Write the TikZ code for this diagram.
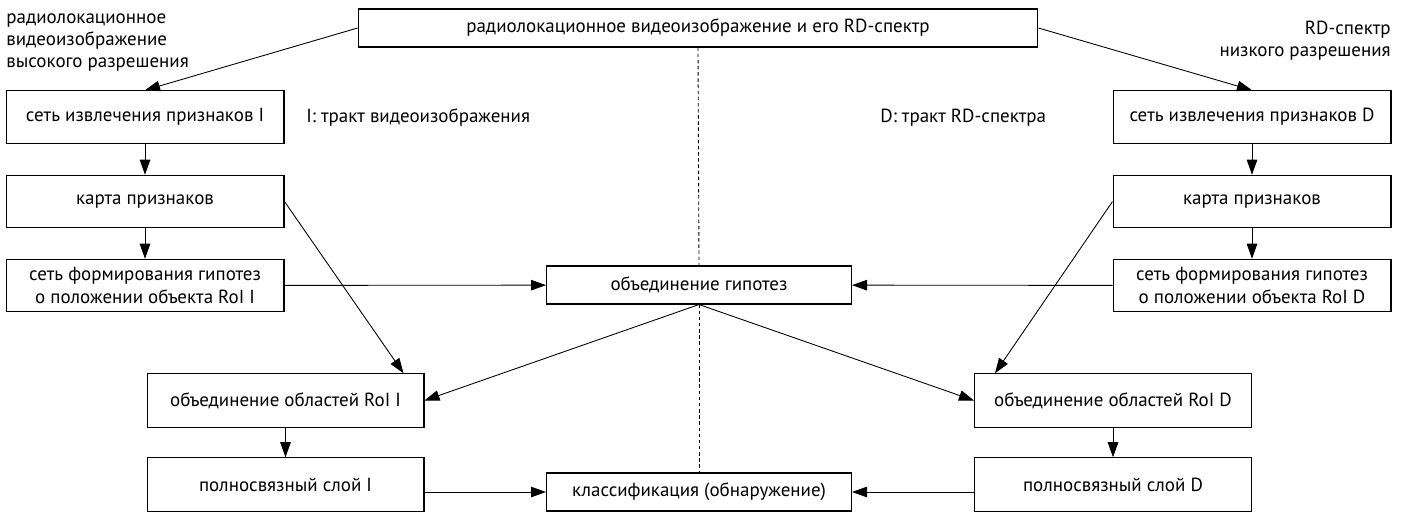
\documentclass[tikz,border=0pt]{standalone}
\usepackage{fontspec}
\setmainfont{PT Sans}
\usetikzlibrary{arrows.meta, positioning, calc}
\tikzset{
  blk/.style={draw, fill=white, line width=0.6pt, inner sep=2pt, align=center,
    font=\fontsize{10.8}{12.6}\selectfont},
  colblk/.style={blk, minimum width=5.56cm, minimum height=1.05cm},
  lowblk/.style={blk, minimum width=5.54cm, minimum height=1.07cm},
  midblk/.style={blk, minimum width=6.1cm, minimum height=0.76cm},
  lbl/.style={inner sep=0pt, font=\fontsize{10.8}{12.6}\selectfont},
  lnk/.style={line width=0.5pt, -{Triangle[length=3mm, width=2.1mm]}},
  guide/.style={line width=0.5pt, dash pattern=on 2pt off 1.5pt},
}

\begin{document}
\begin{tikzpicture}[x=0.02cm, y=-0.02cm]
  \useasboundingbox (0,0) rectangle (1406,512);

  % source
  \node[blk, minimum width=13.6cm, minimum height=0.76cm] (src) at (698,28)
    {радиолокационное видеоизображение и его RD-спектр};

  % the two paths
  \foreach \s/\x in {I/145, D/1252} {
    \node[colblk] (feat\s) at (\x,117) {сеть извлечения признаков \s};
    \node[colblk] (map\s) at (\x,201.5) {карта признаков};
    \node[colblk] (rpn\s) at (\x,285.5) {сеть формирования гипотез\\о положении объекта RoI \s};
  }
  \foreach \s/\x in {I/285.5, D/1113} {
    \node[lowblk] (pool\s) at (\x,400.5) {объединение областей RoI \s};
    \node[lowblk] (fc\s) at (\x,484.5) {полносвязный слой \s};
  }
  \node[midblk] (merge) at (699,285) {объединение гипотез};
  \node[midblk] (cls) at (699,492) {классификация (обнаружение)};

  % labels
  \node[lbl, anchor=north west, align=left] (hiresLbl) at (6,13)
    {радиолокационное\\видеоизображение\\высокого разрешения};
  \node[lbl, anchor=north east, align=right] (lowresLbl) at (1391,21)
    {RD-спектр\\низкого разрешения};
  \node[lbl, anchor=west] (pathI) at (306,118) {I: тракт видеоизображения};
  \node[lbl, anchor=west] (pathD) at (880,118) {D: тракт RD-спектра};

  % links
  \draw[guide] (src.south) -- (merge.north);
  \draw[guide] (merge.south) -- (cls.north);
  \draw[lnk] (src.west) -- (featI.north);
  \draw[lnk] (src.east) -- (featD.north);
  \foreach \s in {I,D} {
    \draw[lnk] (feat\s) -- (map\s);
    \draw[lnk] (map\s) -- (rpn\s);
    \draw[lnk] (rpn\s) -- (merge);
    \draw[lnk] (pool\s) -- (fc\s);
  }
  \draw[lnk] (mapI.east) -- ($(poolI.north east)+(-21,0)$);
  \draw[lnk] (mapD.west) -- ($(poolD.north west)+(21,0)$);
  \draw[lnk] (merge.south) -- (poolI.east);
  \draw[lnk] (merge.south) -- (poolD.west);
  \draw[lnk] (fcI.east |- cls) -- (cls.west);
  \draw[lnk] (fcD.west |- cls) -- (cls.east);
\end{tikzpicture}
\end{document}
